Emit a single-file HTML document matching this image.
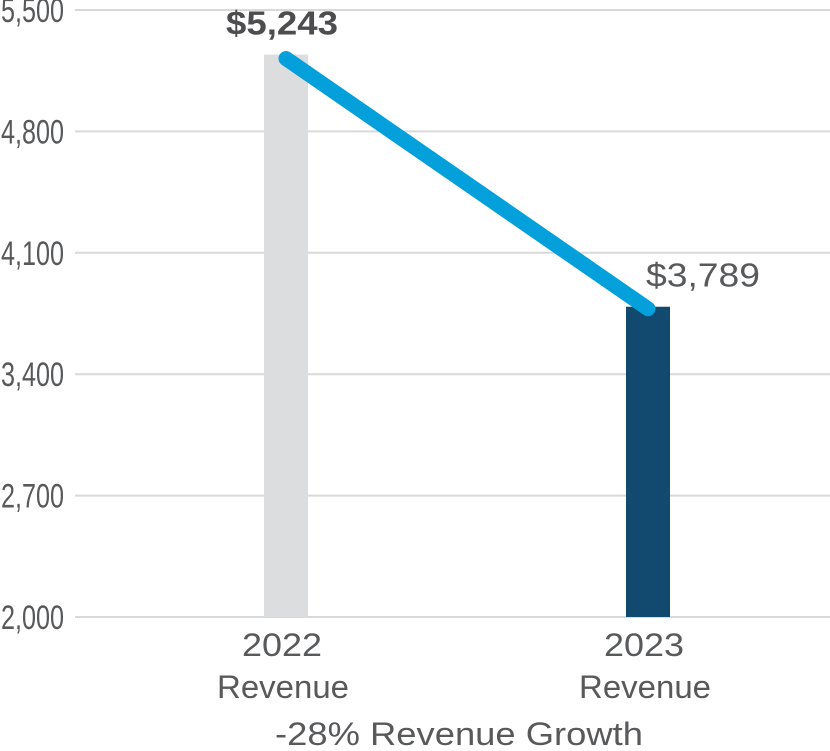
<!DOCTYPE html>
<html><head><meta charset="utf-8"><style>
html,body{margin:0;padding:0;background:#fff}
svg{display:block}
text{font-family:"Liberation Sans",sans-serif;fill:#58595b}
</style></head><body>
<svg id="chart" width="830" height="751" viewBox="0 0 830 751"></svg>
<script>
const categories = ["2022", "2023"];
const revenueValues = [5243, 3789];
const valueLabels = ["$5,243", "$3,789"];
const yTicks = [2000, 2700, 3400, 4100, 4800, 5500];
const yTickLabels = ["2,000", "2,700", "3,400", "4,100", "4,800", "5,500"];
const footerLabel = "-28% Revenue Growth";

const NS = "http://www.w3.org/2000/svg";
const svg = document.getElementById("chart");
const yMin = 2000, yMax = 5500, yTop = 10, yBot = 617;
function y(v){ return yBot - (v - yMin) / (yMax - yMin) * (yBot - yTop); }
const xCenters = [286, 648];
function x(i){ return xCenters[0] + i * (xCenters[1] - xCenters[0]); }
function mk(tag, attrs, text){
  const e = document.createElementNS(NS, tag);
  for (const k in attrs) e.setAttribute(k, attrs[k]);
  if (text !== undefined) e.textContent = text;
  svg.appendChild(e);
  return e;
}
yTicks.forEach((t, i) => {
  const g = mk("line", {x1: 75, x2: 830, y1: y(t), y2: y(t), stroke: "#d9d9d9", "stroke-width": 2});
  
  
  const l = mk("text", {x: 1, y: y(t) + 12, "text-anchor": "start", "font-size": 34, textLength: 63, lengthAdjust: "spacingAndGlyphs"}, yTickLabels[i]);
  
  
});
const barColors = ["#dcdddf", "#114a6e"];
revenueValues.forEach((v, i) => {
  const b = mk("rect", {x: x(i) - 22, y: y(v), width: 44, height: yBot - y(v), fill: barColors[i]});
  
  
  const c = mk("text", {x: x(i) - 4, y: 656, "text-anchor": "middle", "font-size": 32, textLength: 80, lengthAdjust: "spacingAndGlyphs"}, categories[i]);
  
  
  const r = mk("text", {x: x(i) - 3, y: 698, "text-anchor": "middle", "font-size": 32, textLength: 132, lengthAdjust: "spacingAndGlyphs"}, "Revenue");
  
  
});
const line = mk("line", {x1: x(0), y1: y(revenueValues[0]) + 4, x2: x(1), y2: y(revenueValues[1]) + 2, stroke: "#03a0dc", "stroke-width": 15, "stroke-linecap": "round"});


const v1 = mk("text", {x: x(0) - 4, y: y(revenueValues[0]) - 20, "text-anchor": "middle", "font-size": 33, "font-weight": "bold", textLength: 112, lengthAdjust: "spacingAndGlyphs", style: "fill:#4d4d4f"}, valueLabels[0]);


const v2 = mk("text", {x: x(1) + 55, y: y(revenueValues[1]) - 20, "text-anchor": "middle", "font-size": 33, textLength: 114, lengthAdjust: "spacingAndGlyphs"}, valueLabels[1]);


const f = mk("text", {x: 459, y: 745, "text-anchor": "middle", "font-size": 32, textLength: 368, lengthAdjust: "spacingAndGlyphs"}, footerLabel);


</script>
</body></html>
